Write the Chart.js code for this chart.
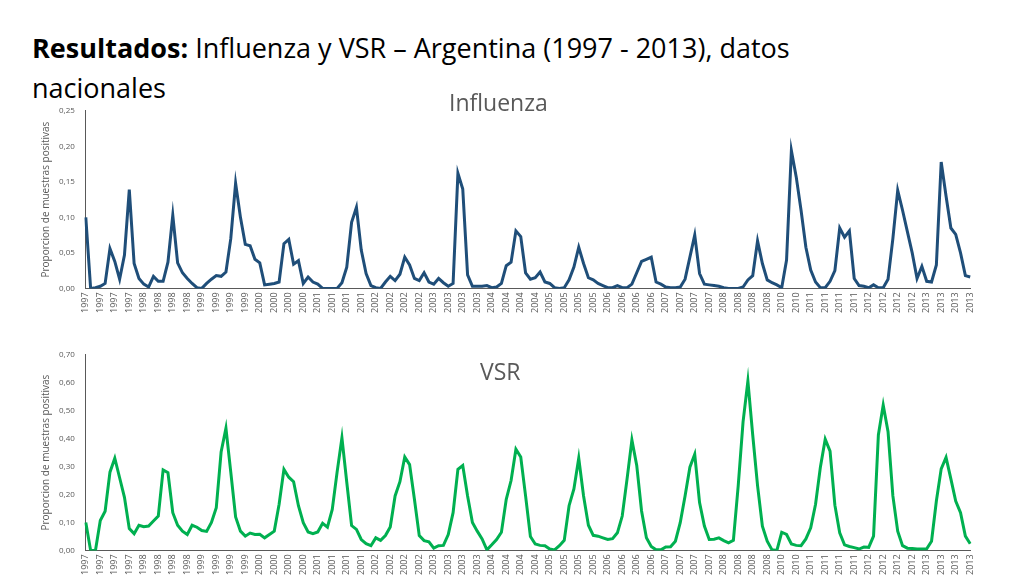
<!DOCTYPE html>
<html lang="es">
<head>
<meta charset="UTF-8">
<title>Influenza y VSR</title>
<style>
  body { margin: 0; width: 1024px; height: 576px; background: #fff; font-family: "Open Sans", "Liberation Sans", sans-serif; position: relative; overflow: hidden; }
  h1 { position: absolute; left: 32px; top: 28px; margin: 0; font-size: 27px; font-weight: normal; line-height: 40px; color: #000; width: 860px; }
  .sub { position: absolute; color: #595959; font-size: 23px; }
  .box { position: absolute; left: 30px; width: 955px; }
</style>
</head>
<body>
<h1><b>Resultados:</b> Influenza y VSR – Argentina (1997 - 2013), datos nacionales</h1>
<div class="box" style="top:103px;height:214px"><canvas id="flu"></canvas></div>
<div class="box" style="top:347px;height:232px"><canvas id="vsr"></canvas></div>
<div class="sub" style="left:449px;top:86px">Influenza</div>
<div class="sub" style="left:480px;top:355px">VSR</div>
<script src="https://cdn.jsdelivr.net/npm/chart.js"></script>
<script>
// years covered, number of points per year (monthly, 2009 missing in source)
const years = [1997, 1998, 1999, 2000, 2001, 2002, 2003, 2004, 2005, 2006, 2007, 2008, 2010, 2011, 2012, 2013];
const pointsPerYear = [12, 12, 12, 12, 12, 12, 12, 12, 12, 12, 12, 12, 6, 12, 12, 10];

const influenza = [
  0.100, 0.000, 0.001, 0.003, 0.007, 0.056, 0.038, 0.013, 0.047, 0.139, 0.035, 0.014,
  0.006, 0.002, 0.017, 0.010, 0.010, 0.037, 0.103, 0.036, 0.022, 0.014, 0.007, 0.001,
  0.000, 0.007, 0.013, 0.018, 0.017, 0.023, 0.070, 0.148, 0.100, 0.062, 0.060, 0.041,
  0.036, 0.005, 0.006, 0.007, 0.009, 0.063, 0.069, 0.034, 0.039, 0.007, 0.016, 0.009,
  0.006, 0.000, 0.000, 0.000, 0.000, 0.008, 0.030, 0.093, 0.114, 0.054, 0.021, 0.004,
  0.001, 0.000, 0.009, 0.017, 0.011, 0.020, 0.044, 0.033, 0.014, 0.011, 0.022, 0.009,
  0.006, 0.014, 0.008, 0.003, 0.007, 0.162, 0.140, 0.019, 0.003, 0.003, 0.003, 0.004,
  0.001, 0.002, 0.007, 0.032, 0.037, 0.081, 0.073, 0.022, 0.013, 0.015, 0.023, 0.009,
  0.007, 0.001, 0.000, 0.001, 0.012, 0.030, 0.058, 0.035, 0.015, 0.012, 0.007, 0.004,
  0.001, 0.001, 0.004, 0.001, 0.001, 0.006, 0.022, 0.038, 0.041, 0.044, 0.009, 0.006,
  0.002, 0.001, 0.001, 0.002, 0.013, 0.044, 0.075, 0.021, 0.006, 0.005, 0.004, 0.003,
  0.001, 0.000, 0.000, 0.000, 0.002, 0.012, 0.018, 0.067, 0.035, 0.012, 0.008, 0.005,
  0.001, 0.040, 0.194, 0.157, 0.110, 0.058,
  0.026, 0.009, 0.001, 0.001, 0.010, 0.025, 0.085, 0.072, 0.081, 0.014, 0.004, 0.003,
  0.001, 0.005, 0.001, 0.001, 0.013, 0.070, 0.138, 0.110, 0.080, 0.050, 0.014, 0.031,
  0.010, 0.009, 0.033, 0.178, 0.130, 0.085, 0.076, 0.050, 0.018, 0.016
];

const vsr = [
  0.100, 0.000, 0.000, 0.107, 0.140, 0.280, 0.330, 0.260, 0.190, 0.078, 0.060, 0.090,
  0.085, 0.087, 0.105, 0.123, 0.288, 0.278, 0.135, 0.090, 0.069, 0.057, 0.090, 0.083,
  0.071, 0.068, 0.100, 0.153, 0.352, 0.437, 0.280, 0.120, 0.069, 0.051, 0.062, 0.057,
  0.058, 0.045, 0.057, 0.069, 0.165, 0.290, 0.262, 0.246, 0.160, 0.099, 0.066, 0.060,
  0.066, 0.097, 0.083, 0.147, 0.280, 0.403, 0.244, 0.089, 0.075, 0.039, 0.024, 0.017,
  0.045, 0.036, 0.053, 0.084, 0.195, 0.246, 0.334, 0.307, 0.183, 0.053, 0.035, 0.031,
  0.008, 0.017, 0.018, 0.057, 0.135, 0.290, 0.304, 0.195, 0.100, 0.069, 0.041, 0.002,
  0.020, 0.039, 0.065, 0.183, 0.250, 0.362, 0.334, 0.195, 0.050, 0.023, 0.018, 0.017,
  0.005, 0.002, 0.017, 0.036, 0.160, 0.220, 0.330, 0.195, 0.090, 0.054, 0.051, 0.045,
  0.039, 0.042, 0.063, 0.123, 0.256, 0.395, 0.304, 0.141, 0.045, 0.014, 0.002, 0.002,
  0.012, 0.013, 0.033, 0.099, 0.195, 0.298, 0.344, 0.171, 0.087, 0.039, 0.040, 0.045,
  0.035, 0.027, 0.036, 0.232, 0.460, 0.606, 0.413, 0.232, 0.087, 0.033, 0.002, 0.000,
  0.065, 0.057, 0.023, 0.018, 0.017, 0.041,
  0.081, 0.165, 0.298, 0.398, 0.355, 0.162, 0.063, 0.020, 0.014, 0.010, 0.005, 0.012,
  0.011, 0.051, 0.413, 0.520, 0.425, 0.195, 0.069, 0.017, 0.008, 0.007, 0.005, 0.005,
  0.006, 0.033, 0.177, 0.292, 0.333, 0.256, 0.177, 0.135, 0.051, 0.024
];

const labels = [];
years.forEach((y, i) => { for (let k = 0; k < pointsPerYear[i]; k++) labels.push(String(y)); });

function makeChart(id, data, color, max, step) {
  new Chart(document.getElementById(id), {
    type: 'line',
    data: { labels: labels, datasets: [{ data: data, borderColor: color, borderWidth: 3, pointRadius: 0, tension: 0 }] },
    options: {
      responsive: true, maintainAspectRatio: false, animation: false,
      plugins: { legend: { display: false }, tooltip: { enabled: false } },
      layout: { padding: { left: 6, right: 4 } },
      scales: {
        x: {
          grid: { display: false, drawTicks: false },
          border: { color: '#595959' },
          ticks: {
            autoSkip: false, maxRotation: 90, minRotation: 90, color: '#595959', padding: 4,
            font: { size: 9, family: 'Open Sans' },
            callback: function (v, i) { return i % 3 === 0 ? labels[i] : null; }
          }
        },
        y: {
          min: 0, max: max,
          grid: { display: false },
          border: { color: '#595959' },
          title: { display: true, text: 'Proporcion de muestras positivas', color: '#595959', font: { size: 10, family: 'Open Sans' } },
          ticks: {
            stepSize: step, color: '#595959', font: { size: 8, family: 'Open Sans' },
            callback: v => v.toFixed(2).replace('.', ',')
          }
        }
      }
    }
  });
}

makeChart('flu', influenza, '#1f4e79', 0.25, 0.05);
makeChart('vsr', vsr, '#00b050', 0.70, 0.10);
</script>
</body>
</html>
